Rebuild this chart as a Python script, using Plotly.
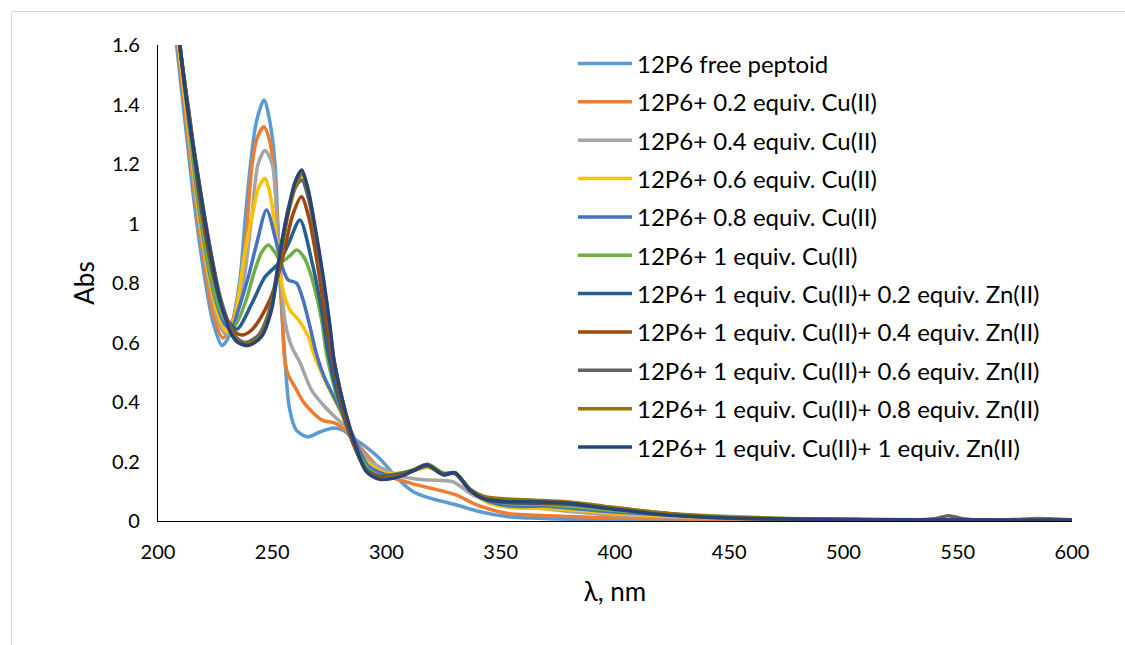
import plotly.graph_objects as go

# ---------------- data ----------------
names = [
    "12P6 free peptoid",
    "12P6+ 0.2 equiv. Cu(II)",
    "12P6+ 0.4 equiv. Cu(II)",
    "12P6+ 0.6 equiv. Cu(II)",
    "12P6+ 0.8 equiv. Cu(II)",
    "12P6+ 1 equiv. Cu(II)",
    "12P6+ 1 equiv. Cu(II)+ 0.2 equiv. Zn(II)",
    "12P6+ 1 equiv. Cu(II)+ 0.4 equiv. Zn(II)",
    "12P6+ 1 equiv. Cu(II)+ 0.6 equiv. Zn(II)",
    "12P6+ 1 equiv. Cu(II)+ 0.8 equiv. Zn(II)",
    "12P6+ 1 equiv. Cu(II)+ 1 equiv. Zn(II)",
]

wl_free = [205, 208, 212, 216, 220, 224, 228, 231, 233.5, 236, 238, 240.5, 243, 246.4, 249, 251.2, 253.4, 255.5, 257.5,
           260.5, 265.5, 271, 277, 281, 285, 290, 297, 304.5, 311.7, 319, 330.7, 341, 352.6, 363, 380, 400, 450, 500, 600]
abs_free = [1.83, 1.61, 1.33, 1.06, 0.84, 0.67, 0.59, 0.62, 0.70, 0.82, 1.0, 1.2, 1.34, 1.415, 1.34, 1.2, 0.81, 0.55, 0.38,
            0.306, 0.283, 0.30, 0.313, 0.305, 0.28, 0.255, 0.21, 0.145, 0.098, 0.077, 0.054, 0.031, 0.015, 0.01, 0.006, 0.005, 0.003, 0.002, 0.0]

wl_cu02 = [205, 208.5, 212, 216, 220, 224, 228.4, 232, 236.6, 239, 241.2, 243.5, 246.4, 248.8, 250.6, 252.3, 253.8, 255.4, 257,
           260, 264, 271.6, 277.5, 281.8, 286, 290, 294, 301.5, 311.6, 319, 330.7, 339.5, 352.6, 363, 380, 400, 450, 500, 600]
abs_cu02 = [1.86, 1.61, 1.37, 1.1, 0.88, 0.70, 0.615, 0.66, 0.81, 1.0, 1.2, 1.29, 1.325, 1.28, 1.19, 1.0, 0.81, 0.55, 0.49,
            0.45, 0.396, 0.34, 0.329, 0.306, 0.27, 0.235, 0.20, 0.15, 0.125, 0.111, 0.087, 0.054, 0.026, 0.02, 0.015, 0.01, 0.005, 0.003, 0.0]

wl_cu04 = [205, 209, 212, 216, 220, 224, 227, 230, 233, 236, 238, 241, 243.8, 246.8, 250, 252, 254, 255.6, 258.5,
           262, 267.2, 273, 278.8, 283, 288, 293, 304.5, 312, 319, 329, 338, 352.6, 363, 380, 400, 450, 500, 600]
abs_cu04 = [1.88, 1.6, 1.41, 1.13, 0.91, 0.74, 0.66, 0.625, 0.66, 0.74, 0.83, 1.02, 1.2, 1.245, 1.2, 1.02, 0.80, 0.67, 0.586,
            0.535, 0.44, 0.384, 0.34, 0.31, 0.245, 0.20, 0.155, 0.142, 0.138, 0.132, 0.087, 0.048, 0.045, 0.032, 0.02, 0.008, 0.004, 0.0]

wl_cu06 = [205, 209, 213, 217, 221, 225, 228, 230.5, 233, 235.5, 238, 241.7, 244, 246.8, 249, 251.2, 252.8, 254.1, 255.8,
           257.8, 262.1, 265.8, 268, 273, 278.8, 283.5, 287, 291, 300, 306, 312, 318, 325, 330, 337, 345, 355, 370, 385, 400, 450, 500, 600]
abs_cu06 = [1.9, 1.6, 1.34, 1.09, 0.88, 0.73, 0.66, 0.635, 0.67, 0.77, 0.90, 1.045, 1.12, 1.152, 1.10, 0.99, 0.88, 0.80, 0.745,
            0.709, 0.67, 0.62, 0.565, 0.474, 0.384, 0.31, 0.25, 0.20, 0.16, 0.162, 0.17, 0.18, 0.16, 0.157, 0.10, 0.06, 0.045, 0.042, 0.035, 0.025, 0.01, 0.005, 0.0]

wl_cu08 = [205, 209.5, 213, 217, 221, 225, 229, 232, 235.1, 239.5, 243.2, 247.5, 251.9, 254.8, 257, 260.6, 263.5, 266.5,
           269.4, 273, 278.8, 284, 288, 292, 300, 306, 312, 318, 325, 330, 337, 345, 355, 370, 385, 400, 450, 500, 600]
abs_cu08 = [1.92, 1.6, 1.37, 1.11, 0.9, 0.75, 0.665, 0.645, 0.709, 0.82, 0.933, 1.045, 0.933, 0.844, 0.81, 0.80, 0.743, 0.653,
            0.56, 0.48, 0.39, 0.31, 0.24, 0.185, 0.155, 0.16, 0.17, 0.185, 0.16, 0.16, 0.10, 0.065, 0.05, 0.05, 0.04, 0.03, 0.012, 0.005, 0.0]

wl_cu10 = [205, 209.5, 213, 217, 221, 225, 229, 232.8, 238, 242.4, 245.5, 248.3, 251, 254, 257.5, 260.7, 264, 267.2, 271.6,
           273.8, 279.6, 282.6, 287, 292, 298, 306, 312, 318, 325, 330, 337, 345, 355, 370, 385, 400, 450, 500, 600]
abs_cu10 = [1.93, 1.6, 1.38, 1.12, 0.91, 0.76, 0.68, 0.648, 0.73, 0.844, 0.905, 0.928, 0.905, 0.872, 0.89, 0.911, 0.885, 0.82, 0.676,
            0.56, 0.384, 0.317, 0.24, 0.175, 0.15, 0.16, 0.172, 0.19, 0.16, 0.162, 0.105, 0.072, 0.058, 0.055, 0.046, 0.035, 0.015, 0.005, 0.0]

wl_zn02 = [205, 209.5, 214, 218, 222, 226, 230, 234.5, 241, 246.8, 252.7, 257, 262.1, 267.2, 271.6, 274.5, 278, 282, 286,
           291, 297, 306, 312, 318, 325, 330, 336.5, 343, 353, 365, 380, 395, 410, 430, 450, 500, 600]
abs_zn02 = [1.93, 1.6, 1.34, 1.1, 0.91, 0.77, 0.68, 0.645, 0.73, 0.82, 0.866, 0.93, 1.012, 0.877, 0.709, 0.564, 0.44, 0.335, 0.25,
            0.175, 0.15, 0.158, 0.172, 0.19, 0.158, 0.162, 0.104, 0.074, 0.062, 0.06, 0.056, 0.045, 0.032, 0.018, 0.01, 0.004, 0.0]

wl_zn04 = [205, 209.5, 214, 218, 222, 226, 230, 233, 236.6, 241, 246.8, 251.2, 255, 259, 262.8, 266, 269, 272, 275, 278.5, 282, 286,
           291, 297, 306, 312, 318, 325, 330, 336.5, 343, 353, 365, 380, 395, 410, 430, 450, 500, 600]
abs_zn04 = [1.94, 1.6, 1.35, 1.11, 0.92, 0.775, 0.68, 0.64, 0.625, 0.642, 0.709, 0.788, 0.9, 1.03, 1.09, 1.02, 0.9, 0.75, 0.6, 0.46, 0.345, 0.25,
            0.172, 0.148, 0.155, 0.172, 0.19, 0.157, 0.162, 0.104, 0.075, 0.064, 0.062, 0.058, 0.047, 0.034, 0.019, 0.011, 0.004, 0.0]

wl_zn06 = [205, 209.5, 214, 219, 223, 227, 231, 234.5, 238.5, 244, 248, 251, 254, 257, 260, 262.9, 266, 268.7, 272.3, 275.3, 277,
           282.5, 287, 291.3, 297, 306, 312, 318, 325, 330, 336.5, 343, 353, 365, 380, 395, 410, 430, 450, 500, 530, 540, 546, 552, 560, 600]
abs_zn06 = [1.94, 1.6, 1.34, 1.09, 0.91, 0.76, 0.665, 0.615, 0.60, 0.625, 0.69, 0.79, 0.93, 1.05, 1.12, 1.146, 1.08, 0.97, 0.80, 0.64, 0.54,
            0.35, 0.24, 0.168, 0.142, 0.152, 0.17, 0.19, 0.156, 0.162, 0.104, 0.076, 0.066, 0.064, 0.06, 0.048, 0.035, 0.02, 0.011, 0.005, 0.004, 0.008, 0.018, 0.008, 0.004, 0.003]

wl_zn08 = [205, 209.6, 214, 219, 223, 227, 231, 235, 239, 244.5, 249, 252, 254.5, 257.5, 260.5, 263, 266, 268.7, 272.3, 275.3, 277,
           282.6, 287, 291.3, 297, 306, 312, 318, 325, 330, 336.5, 343, 353, 365, 380, 395, 410, 430, 450, 500, 570, 585, 600]
abs_zn08 = [1.95, 1.6, 1.335, 1.085, 0.905, 0.75, 0.655, 0.605, 0.595, 0.62, 0.70, 0.81, 0.93, 1.05, 1.13, 1.165, 1.10, 0.98, 0.81, 0.645, 0.54,
            0.35, 0.24, 0.166, 0.142, 0.152, 0.17, 0.19, 0.156, 0.162, 0.106, 0.082, 0.074, 0.07, 0.064, 0.05, 0.036, 0.021, 0.012, 0.006, 0.004, 0.008, 0.004]

wl_zn10 = [205, 209.6, 214, 219.1, 223, 227.1, 229.3, 232, 235, 239.5, 245.3, 249.7, 251.9, 254.1, 257, 260, 262.9, 265.5, 268.7, 272.3,
           275.3, 277, 280, 282.6, 287, 291.3, 297, 306, 312, 317.6, 324.8, 330, 336.5, 342.4, 352.6, 363, 375, 385, 395, 405, 420, 440, 460, 500, 600]
abs_zn10 = [1.95, 1.6, 1.33, 1.079, 0.90, 0.743, 0.687, 0.63, 0.60, 0.59, 0.62, 0.71, 0.82, 0.933, 1.045, 1.14, 1.18, 1.12, 0.99, 0.82,
            0.653, 0.54, 0.43, 0.35, 0.24, 0.165, 0.14, 0.15, 0.17, 0.188, 0.155, 0.162, 0.104, 0.076, 0.065, 0.065, 0.062, 0.055, 0.044, 0.035, 0.022, 0.013, 0.008, 0.005, 0.003]

wavelengths = [wl_free, wl_cu02, wl_cu04, wl_cu06, wl_cu08, wl_cu10, wl_zn02, wl_zn04, wl_zn06, wl_zn08, wl_zn10]
absorbances = [abs_free, abs_cu02, abs_cu04, abs_cu06, abs_cu08, abs_cu10, abs_zn02, abs_zn04, abs_zn06, abs_zn08, abs_zn10]

colors = ["#5B9BD5", "#ED7D31", "#A5A5A5", "#FFC000", "#4472C4", "#70AD47",
          "#255E91", "#9E480E", "#636363", "#997300", "#264478"]

x_ticks = [200, 250, 300, 350, 400, 450, 500, 550, 600]
y_ticks = [0, 0.2, 0.4, 0.6, 0.8, 1.0, 1.2, 1.4, 1.6]

# ---------------- figure ----------------
W, H = 1125, 645
L, R, T, B = 158, 1072, 45, 521   # plot area in pixels
FONT = "Lato"

def px_to_paper(px, py):
    return (px - L) / (R - L), (B - py) / (B - T)

fig = go.Figure()
for x, y, c, n in zip(wavelengths, absorbances, colors, names):
    fig.add_trace(go.Scatter(x=x, y=y, mode="lines", name=n,
                             line=dict(color=c, width=3.5, shape="spline", smoothing=0.8),
                             showlegend=False, cliponaxis=True))

shapes = []
annotations = []
# manual legend
for i, (c, n) in enumerate(zip(colors, names)):
    cy = 63.5 + i * 38.35
    x0, yy = px_to_paper(578, cy)
    x1, _ = px_to_paper(632, cy)
    xt, _ = px_to_paper(635, cy)
    shapes.append(dict(type="line", xref="paper", yref="paper", x0=x0, x1=x1, y0=yy, y1=yy,
                       line=dict(color=c, width=3.5)))
    annotations.append(dict(xref="paper", yref="paper", x=xt, y=yy, xanchor="left", yanchor="middle",
                            text=n, showarrow=False, font=dict(family=FONT, size=24, color="#000000")))

# chart-area frame (extends past right/bottom edge like the reference)
fx0, fy0 = px_to_paper(11.5, 11.5)
fx1, fy1 = px_to_paper(1140, 660)
shapes.append(dict(type="rect", xref="paper", yref="paper", x0=fx0, x1=fx1, y0=fy1, y1=fy0,
                   line=dict(color="#D9D9D9", width=1), fillcolor="rgba(0,0,0,0)", layer="below"))

fig.update_layout(
    width=W, height=H,
    margin=dict(l=L, r=W - R, t=T, b=H - B, pad=0),
    paper_bgcolor="white", plot_bgcolor="white",
    font=dict(family=FONT, size=20, color="#000000"),
    shapes=shapes, annotations=annotations,
    showlegend=False,
)
fig.update_xaxes(range=[200, 600], tickvals=x_ticks, ticktext=[str(v) for v in x_ticks],
                 showgrid=False, zeroline=False, showline=True, linecolor="#000000", linewidth=1.3,
                 ticks="", ticklabelstandoff=13, tickfont=dict(family=FONT, size=20),
                 title=dict(text="λ, nm", font=dict(family=FONT, size=26), standoff=20))
fig.update_yaxes(range=[0, 1.6], tickvals=y_ticks, ticktext=["0", "0.2", "0.4", "0.6", "0.8", "1", "1.2", "1.4", "1.6"],
                 showgrid=False, zeroline=False, showline=True, linecolor="#000000", linewidth=1.3,
                 ticks="", ticklabelstandoff=13, tickfont=dict(family=FONT, size=20),
                 title=dict(text="Abs", font=dict(family=FONT, size=26), standoff=9))

fig.write_html("out.html")
